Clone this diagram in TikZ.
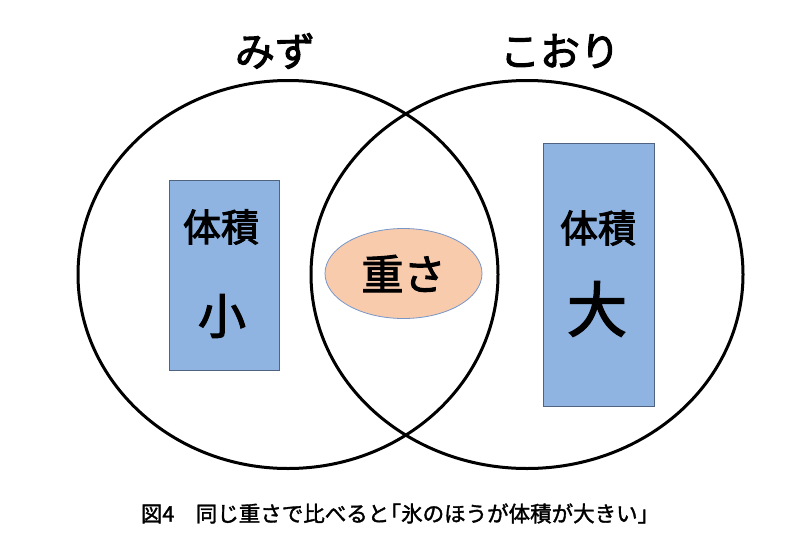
\documentclass[tikz,border=0pt]{standalone}
\usepackage{fontspec}
\usetikzlibrary{shapes.geometric}
\newfontfamily\jp[FakeBold=2.5]{Noto Sans CJK JP}
\newfontfamily\jpcap[FakeBold=1.6]{Noto Sans CJK JP}
\definecolor{boxfill}{RGB}{143,180,226}
\definecolor{boxline}{RGB}{80,100,130}
\definecolor{ovalfill}{RGB}{248,203,173}
\definecolor{ovalline}{RGB}{120,150,200}
\tikzset{
  ring/.style={draw=black, line width=3pt},
  volbox/.style={draw=boxline, fill=boxfill, line width=0.9pt},
  lbl/.style={font=\jp\fontsize{#1}{#1}\selectfont, inner sep=0pt},
}
\begin{document}
\begin{tikzpicture}[x=1pt,y=-1pt]
\useasboundingbox (0,0) rectangle (800,533);
\fill[white] (0,0) rectangle (800,533);
% rings
\draw[ring] (288,274.5) ellipse [x radius=210, y radius=194];
\draw[ring] (527,274.5) ellipse [x radius=216, y radius=194];
% titles
\node[lbl=40] (mizu) at (275,51) {みず};
\node[lbl=40] (kori) at (560,51) {こおり};
% boxes
\draw[volbox] (169,180) rectangle (279,370);
\draw[volbox] (543,143) rectangle (654,406);
\node[lbl=38] (vl) at (221,227) {体積};
\node[lbl=48] (small) at (222,316) {小};
\node[lbl=38] (vr) at (598,228) {体積};
\node[lbl=60] (big) at (597,309) {大};
% oval
\node[draw=ovalline, fill=ovalfill, line width=0.8pt, ellipse, minimum width=157pt, minimum height=90pt, inner sep=0pt] (oval) at (403.5,273.5) {};
\node[lbl=42] (weight) at (oval.center) {重さ};
% caption
\node[inner sep=0pt, font=\jpcap\fontsize{21.5}{21.5}\selectfont] (cap) at (400,513.5) {図4\hspace{1em}同じ重さで比べると\hspace{-0.45em}「氷のほうが体積が大きい」};
\end{tikzpicture}
\end{document}
